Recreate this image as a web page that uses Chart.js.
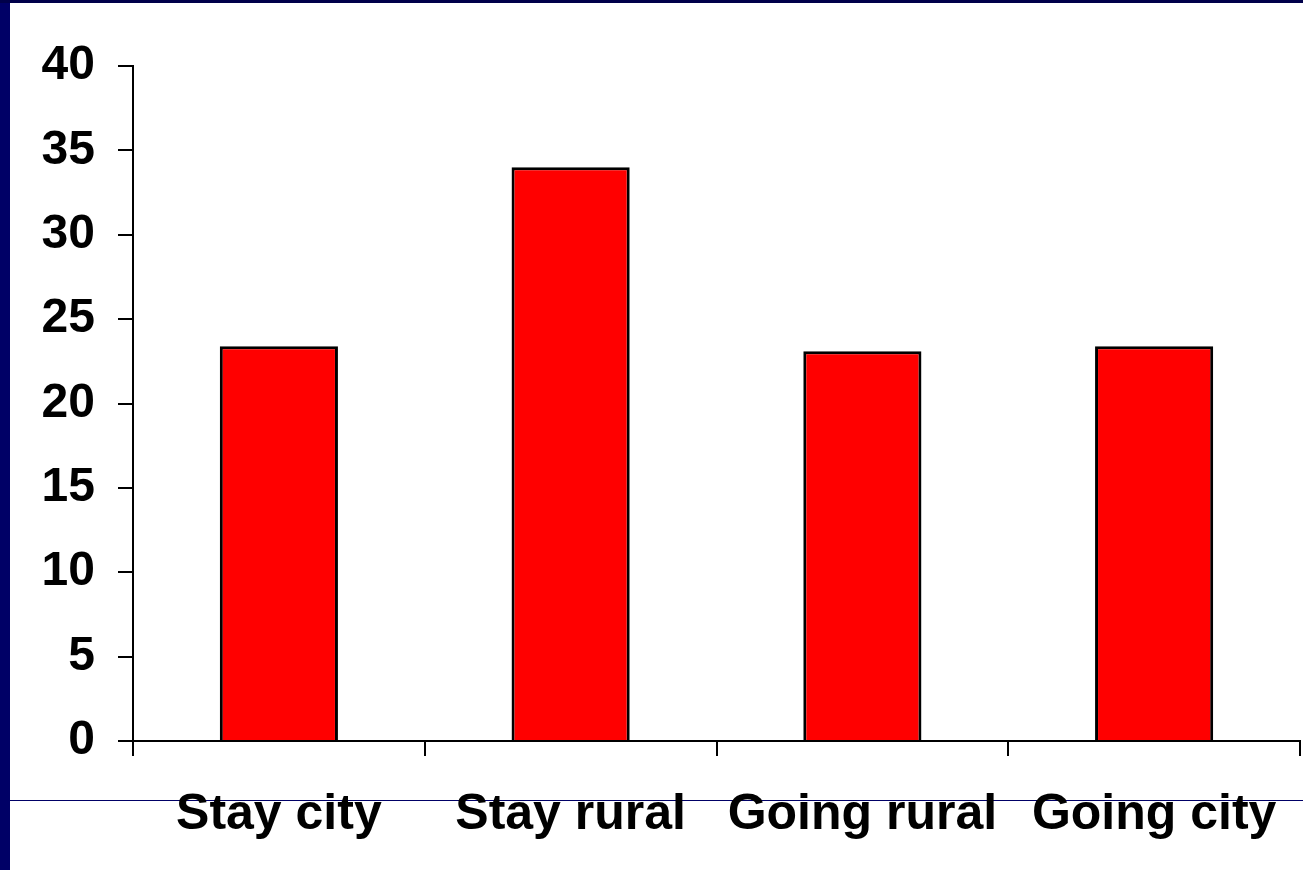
<!DOCTYPE html>
<html>
<head>
<meta charset="utf-8">
<script src="https://cdn.jsdelivr.net/npm/chart.js@4"></script>
<style>
    html, body { margin: 0; padding: 0; background: #fff; overflow: hidden; }
    #wrap { position: relative; width: 1303px; height: 870px; }
    #leftBar { position: absolute; left: 0; top: 0; width: 10px; height: 870px; background: #000066; }
    #topBar { position: absolute; left: 0; top: 0; width: 1303px; height: 3px; background: #00004a; }
    #rule { position: absolute; left: 10px; top: 800px; width: 1293px; height: 1px; background: #000066; }
    #chart { position: absolute; left: 0; top: 0; }
</style>
</head>
<body>
<div id="wrap">
    <div id="rule"></div>
    <canvas id="chart" width="1303" height="870"></canvas>
    <div id="leftBar"></div>
    <div id="topBar"></div>
</div>
<script>
const categories = ['Stay city', 'Stay rural', 'Going rural', 'Going city'];
const values = [23.4, 34, 23.1, 23.4];
const yMin = 0;
const yMax = 40;
const yStep = 5;

const fontFamily = "'Liberation Sans', Arial, sans-serif";

const ctx = document.getElementById('chart').getContext('2d');

new Chart(ctx, {
    type: 'bar',
    data: {
        labels: categories,
        datasets: [{
            data: values,
            backgroundColor: '#ff0000',
            borderColor: '#000000',
            borderWidth: 3,
            barPercentage: 0.405,
            categoryPercentage: 1
        }]
    },
    options: {
        responsive: false,
        animation: false,
        layout: { padding: { top: 66, right: 3, left: 0, bottom: 0 } },
        plugins: { legend: { display: false }, tooltip: { enabled: false } },
        scales: {
            x: {
                grid: { display: true, drawOnChartArea: false, offset: true, color: '#000', lineWidth: 2, tickLength: 15 },
                border: { display: true, color: '#000', width: 2 },
                ticks: { color: '#000', font: { family: fontFamily, size: 50, weight: 'bold' }, padding: 29, maxRotation: 0 },
                afterFit: (scale) => {
                    scale.height = 129;
                    scale.paddingLeft = 0;
                    scale.paddingRight = 0;
                }
            },
            y: {
                min: yMin,
                max: yMax,
                grid: { display: true, drawOnChartArea: false, color: '#000', lineWidth: 2, tickLength: 15 },
                border: { display: true, color: '#000', width: 2 },
                ticks: { stepSize: yStep, color: '#000', font: { family: fontFamily, size: 48, weight: 'bold' }, padding: 23 },
                afterFit: (scale) => { scale.width = 133; }
            }
        }
    }
});
</script>
</body>
</html>
